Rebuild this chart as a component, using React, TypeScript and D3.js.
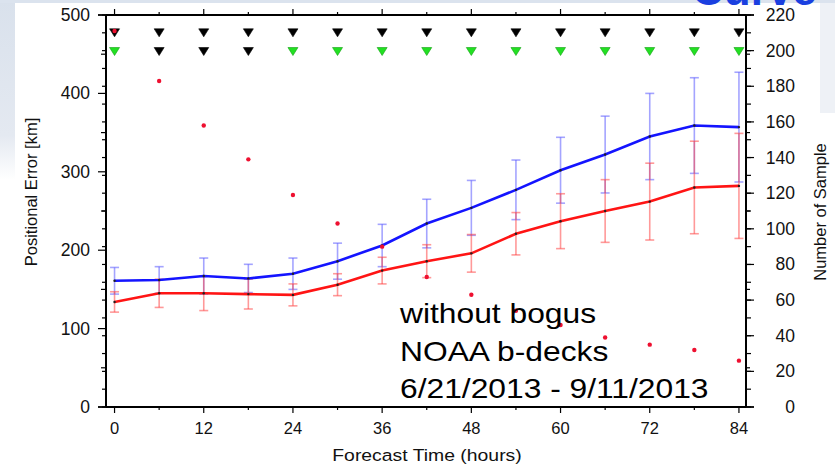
import React from "react";
import * as d3 from "d3";

const hours = [0, 6, 12, 18, 24, 30, 36, 42, 48, 54, 60, 66, 72, 78, 84];
const blueMean = [161, 162, 167, 164, 170, 186, 206, 234, 254, 277, 302, 322, 345, 359, 357];
const blueSd = [17, 17, 23, 18, 20, 23, 27, 31, 35, 38, 42, 49, 55, 61, 70];
const redMean = [134, 145, 145, 144, 143, 156, 174, 186, 196, 221, 237, 250, 262, 280, 282];
const redSd = [13, 18, 22, 19, 14, 14, 17, 21, 24, 27, 35, 40, 49, 59, 67];
const samples = [211, 183, 158, 139, 119, 103, 90, 73, 63, 54, 46, 39, 35, 32, 26];
const rowTop = [1, 1, 1, 1, 1, 1, 1, 1, 1, 1, 1, 1, 1, 1, 1]; // 1 = black
const rowBottom = [0, 1, 1, 1, 0, 0, 0, 0, 0, 0, 0, 0, 0, 0, 0]; // 0 = green, 1 = black
const xTickLabels = [0, 12, 24, 36, 48, 60, 72, 84];
const yLeftTicks = [0, 100, 200, 300, 400, 500];
const yRightTicks = [0, 20, 40, 60, 80, 100, 120, 140, 160, 180, 200, 220];
const noteLines = ["without bogus", "NOAA b-decks", "6/21/2013 - 9/11/2013"];

const W = 835, H = 469;
const L = 106, R = 746, T = 15, B = 407;
const FONT = "'Liberation Sans', Arial, Helvetica, sans-serif";

export default function App() {
  const x = d3.scaleLinear().domain([-1.15, 84.95]).range([L, R]);
  const y = d3.scaleLinear().domain([0, 500]).range([B, T]);
  const y2 = d3.scaleLinear().domain([0, 220]).range([B, T]);

  const line = d3.line<number>().x((_, i) => x(hours[i])).y((v) => y(v));

  const kmMinor = d3.range(0, 501, 50).filter((v) => v % 100 !== 0);
  const sampMinor = d3.range(0, 221, 10);
  const hourTicks = d3.range(0, 85, 6);

  const errBars = (mean: number[], sd: number[], color: string, key: string) =>
    hours.map((h, i) => {
      const cx = x(h);
      const y1 = y(mean[i] + sd[i]);
      const y0 = y(mean[i] - sd[i]);
      return (
        <g key={key + i} stroke={color} strokeWidth={1.6} fill="none">
          <line x1={cx} x2={cx} y1={y1} y2={y0} />
          <line x1={cx - 4.5} x2={cx + 4.5} y1={y1} y2={y1} />
          <line x1={cx - 4.5} x2={cx + 4.5} y1={y0} y2={y0} />
        </g>
      );
    });

  const tri = (cx: number, cy: number) =>
    `M${cx - 5},${cy - 4} L${cx + 5},${cy - 4} L${cx},${cy + 4} Z`;

  return (
    <svg
      width={W}
      height={H}
      style={{ position: "absolute", left: 0, top: 0, background: "#fff" }}
      fontFamily={FONT}
    >
      <defs>
        <linearGradient id="lband" x1="0" y1="0" x2="0" y2="1">
          <stop offset="0" stopColor="#d9e1ec" />
          <stop offset="0.75" stopColor="#e4e9f1" />
          <stop offset="1" stopColor="#ffffff" />
        </linearGradient>
      </defs>
      <rect x={0} y={0} width={W} height={H} fill="#fff" />
      <rect x={0} y={0} width={15} height={180} fill="url(#lband)" />
      <rect x={0} y={0} width={W} height={3} fill="#dbe3ee" />
      <rect x={820} y={3} width={15} height={110} fill="#eef1f6" />
      <text x={692} y={5} fontSize={44} fontWeight="bold" fill="#1a3fe0" fontFamily={FONT}>
        Curve
      </text>

      {/* error bars */}
      {errBars(blueMean, blueSd, "rgba(90,90,255,0.55)", "b")}
      {errBars(redMean, redSd, "rgba(255,70,70,0.55)", "r")}

      {/* mean lines */}
      <path d={line(blueMean) || ""} fill="none" stroke="#1414ff" strokeWidth={2.6} />
      <path d={line(redMean) || ""} fill="none" stroke="#ff1414" strokeWidth={2.6} />
      {hours.map((h, i) => (
        <g key={"md" + i} fill="#222">
          <circle cx={x(h)} cy={y(blueMean[i])} r={1.2} />
          <circle cx={x(h)} cy={y(redMean[i])} r={1.2} />
        </g>
      ))}

      {/* triangles */}
      {hours.map((h, i) => (
        <g key={"t" + i}>
          <path d={tri(x(h), y2(210))} fill={rowTop[i] ? "#000" : "#22dd22"} stroke={rowTop[i] ? "#000" : "#119911"} strokeWidth={0.6} />
          <path d={tri(x(h), y2(199.5))} fill={rowBottom[i] ? "#000" : "#22e022"} stroke={rowBottom[i] ? "#000" : "#11a011"} strokeWidth={0.6} />
        </g>
      ))}

      {/* sample count dots */}
      {hours.map((h, i) => (
        <circle key={"s" + i} cx={x(h)} cy={y2(samples[i])} r={2.2} fill="#ee1030" />
      ))}

      {/* note text */}
      {noteLines.map((t, i) => (
        <text
          key={"n" + i}
          transform={`translate(400,${323 + i * 37.5}) scale(1.115,1)`}
          fontSize={28.5}
          fill="#000"
        >
          {t}
        </text>
      ))}

      {/* frame */}
      <g stroke="#000" strokeWidth={2} fill="none">
        <line x1={L} x2={R} y1={T} y2={T} />
        <line x1={L} x2={R} y1={B} y2={B} />
        <line x1={L} x2={L} y1={T} y2={B} />
        <line x1={R} x2={R} y1={T} y2={B} />
      </g>

      {/* x ticks */}
      <g stroke="#000" strokeWidth={1.2}>
        {hourTicks.map((h) => {
          const major = h % 12 === 0;
          const len = major ? 6 : 3;
          return (
            <g key={"xt" + h}>
              <line x1={x(h)} x2={x(h)} y1={B} y2={B + len} />
              <line x1={x(h)} x2={x(h)} y1={T} y2={T - len} />
            </g>
          );
        })}
        <line x1={L - 8} x2={L} y1={B} y2={B} strokeWidth={1.5} />
        <line x1={L - 8} x2={L} y1={T} y2={T} strokeWidth={1.5} />
        <line x1={R} x2={R + 8} y1={B} y2={B} strokeWidth={1.5} />
        <line x1={R} x2={R + 8} y1={T} y2={T} strokeWidth={1.5} />
      </g>
      {xTickLabels.map((h) => (
        <text key={"xl" + h} x={x(h)} y={434} fontSize={16.5} textAnchor="middle" fill="#111">
          {h}
        </text>
      ))}
      <text
        transform={`translate(${(L + R) / 2 + 1},461) scale(1.14,1)`}
        fontSize={17}
        textAnchor="middle"
        fill="#111"
      >
        Forecast Time (hours)
      </text>

      {/* left axis */}
      <g stroke="#000" strokeWidth={1.2}>
        {yLeftTicks.map((v) => (
          <line key={"yl" + v} x1={L - 8} x2={L} y1={y(v)} y2={y(v)} />
        ))}
        {kmMinor.map((v) => (
          <line key={"ylm" + v} x1={L - 5} x2={L} y1={y(v)} y2={y(v)} />
        ))}
        {sampMinor.map((v) => (
          <line key={"yls" + v} x1={L - 4} x2={L} y1={y2(v)} y2={y2(v)} />
        ))}
      </g>
      {yLeftTicks.map((v) => (
        <text key={"yll" + v} x={90} y={y(v) + 6} fontSize={17.5} textAnchor="end" fill="#111">
          {v}
        </text>
      ))}
      <text
        transform={`translate(37,${(T + B) / 2 - 19}) rotate(-90)`}
        fontSize={16.5}
        textAnchor="middle"
        fill="#111"
      >
        Positional Error [km]
      </text>

      {/* right axis */}
      <g stroke="#000" strokeWidth={1.2}>
        {yRightTicks.map((v) => (
          <line key={"yr" + v} x1={R} x2={R + 8} y1={y2(v)} y2={y2(v)} />
        ))}
        {sampMinor.map((v) => (
          <line key={"yrm" + v} x1={R} x2={R + 5} y1={y2(v)} y2={y2(v)} />
        ))}
        {kmMinor.map((v) => (
          <line key={"yrk" + v} x1={R} x2={R + 4} y1={y(v)} y2={y(v)} />
        ))}
      </g>
      {yRightTicks.map((v) => (
        <text key={"yrl" + v} x={795} y={y2(v) + 6} fontSize={17.5} textAnchor="end" fill="#111">
          {v}
        </text>
      ))}
      <text
        transform={`translate(826,${(T + B) / 2 + 1}) rotate(-90)`}
        fontSize={16.5}
        textAnchor="middle"
        fill="#111"
      >
        Number of Sample
      </text>
    </svg>
  );
}
